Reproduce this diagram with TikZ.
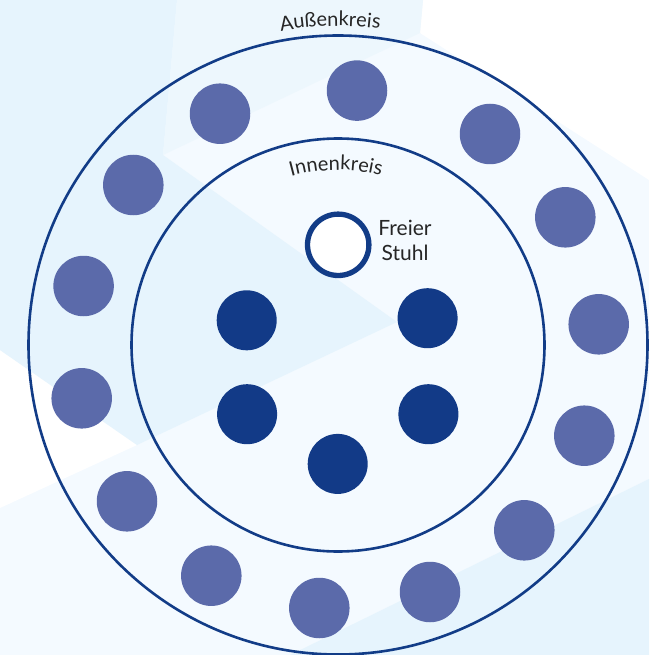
\documentclass[tikz,border=0pt]{standalone}
\usepackage{fontspec}
\setmainfont{Lato}
\usetikzlibrary{decorations.text}
\definecolor{bgA}{HTML}{E6F4FD}
\definecolor{bgB}{HTML}{EDF7FD}
\definecolor{bgC}{HTML}{F4FAFF}
\definecolor{navy}{HTML}{123C87}
\definecolor{dotOuter}{HTML}{5B6AAA}
\definecolor{dotInner}{HTML}{123A87}
\definecolor{txt}{HTML}{262626}
\begin{document}
\begin{tikzpicture}[x=1pt,y=-1pt,
  ring/.style={draw=navy,line width=2.6pt},
  outerdot/.style={circle,fill=dotOuter,minimum size=60.5pt,inner sep=0pt,outer sep=0pt},
  innerdot/.style={circle,fill=dotInner,minimum size=60pt,inner sep=0pt,outer sep=0pt},
  freechair/.style={circle,draw=navy,line width=5.3pt,fill=white,minimum size=61.4pt,inner sep=0pt},
  labeltext/.style={text=txt,font=\fontsize{21}{25.7}\selectfont,align=center}]
\useasboundingbox (0,0) rectangle (649,655);
% background
\fill[bgC] (0,0) rectangle (649,655);
\fill[white] (423,0) -- (649,0) -- (649,180) -- (420,33) -- cycle;
\fill[white] (0,350) -- (137,445) -- (0,508) -- cycle;
\fill[bgA] (0,0) -- (177,0) -- (163,155) -- (397,322) -- (137,445) -- (0,350) -- cycle;
\fill[bgB] (177,0) -- (423,0) -- (420,33) -- (163,155) -- cycle;
\fill[bgA] (290,655) -- (649,479) -- (649,655) -- cycle;
% rings
\coordinate (c) at (338,345);
\draw[ring] (c) circle[radius=309.5pt];
\draw[ring] (c) circle[radius=206.5pt];
% curved labels
\path[decorate,text=txt,decoration={text along path,text align=center,
  text={|\fontsize{20}{24}\selectfont\color{txt}|Außenkreis}}]
  (c) ++(181.4:319pt) arc[start angle=181.4,end angle=1.4,radius=319pt];
\path[decorate,text=txt,decoration={text along path,text align=center,
  text={|\fontsize{20}{24}\selectfont\color{txt}|Innenkreis}}]
  (c) ++(180.65:175pt) arc[start angle=180.65,end angle=0.65,radius=175pt];
% outer circle chairs
\node[outerdot] (o1) at (357,90.6) {};
\node[outerdot] (o2) at (490,134) {};
\node[outerdot] (o3) at (565.3,217.3) {};
\node[outerdot] (o4) at (598.7,324.3) {};
\node[outerdot] (o5) at (584.3,435.7) {};
\node[outerdot] (o6) at (524.3,530.3) {};
\node[outerdot] (o7) at (430,592) {};
\node[outerdot] (o8) at (319.3,608) {};
\node[outerdot] (o9) at (211.3,575.7) {};
\node[outerdot] (o10) at (127,501.3) {};
\node[outerdot] (o11) at (81.7,398.3) {};
\node[outerdot] (o12) at (83.6,286) {};
\node[outerdot] (o13) at (133.3,185) {};
\node[outerdot] (o14) at (220,113.7) {};
% inner circle chairs
\node[innerdot] (i1) at (246.7,320.3) {};
\node[innerdot] (i2) at (427.6,318.2) {};
\node[innerdot] (i3) at (247.1,414.2) {};
\node[innerdot] (i4) at (428.4,414.2) {};
\node[innerdot] (i5) at (337.7,463.9) {};
% free chair
\node[freechair] (free) at (338.2,244.8) {};
\node[labeltext] (freelabel) at (405,240.5) {Freier\\Stuhl};
\end{tikzpicture}
\end{document}
